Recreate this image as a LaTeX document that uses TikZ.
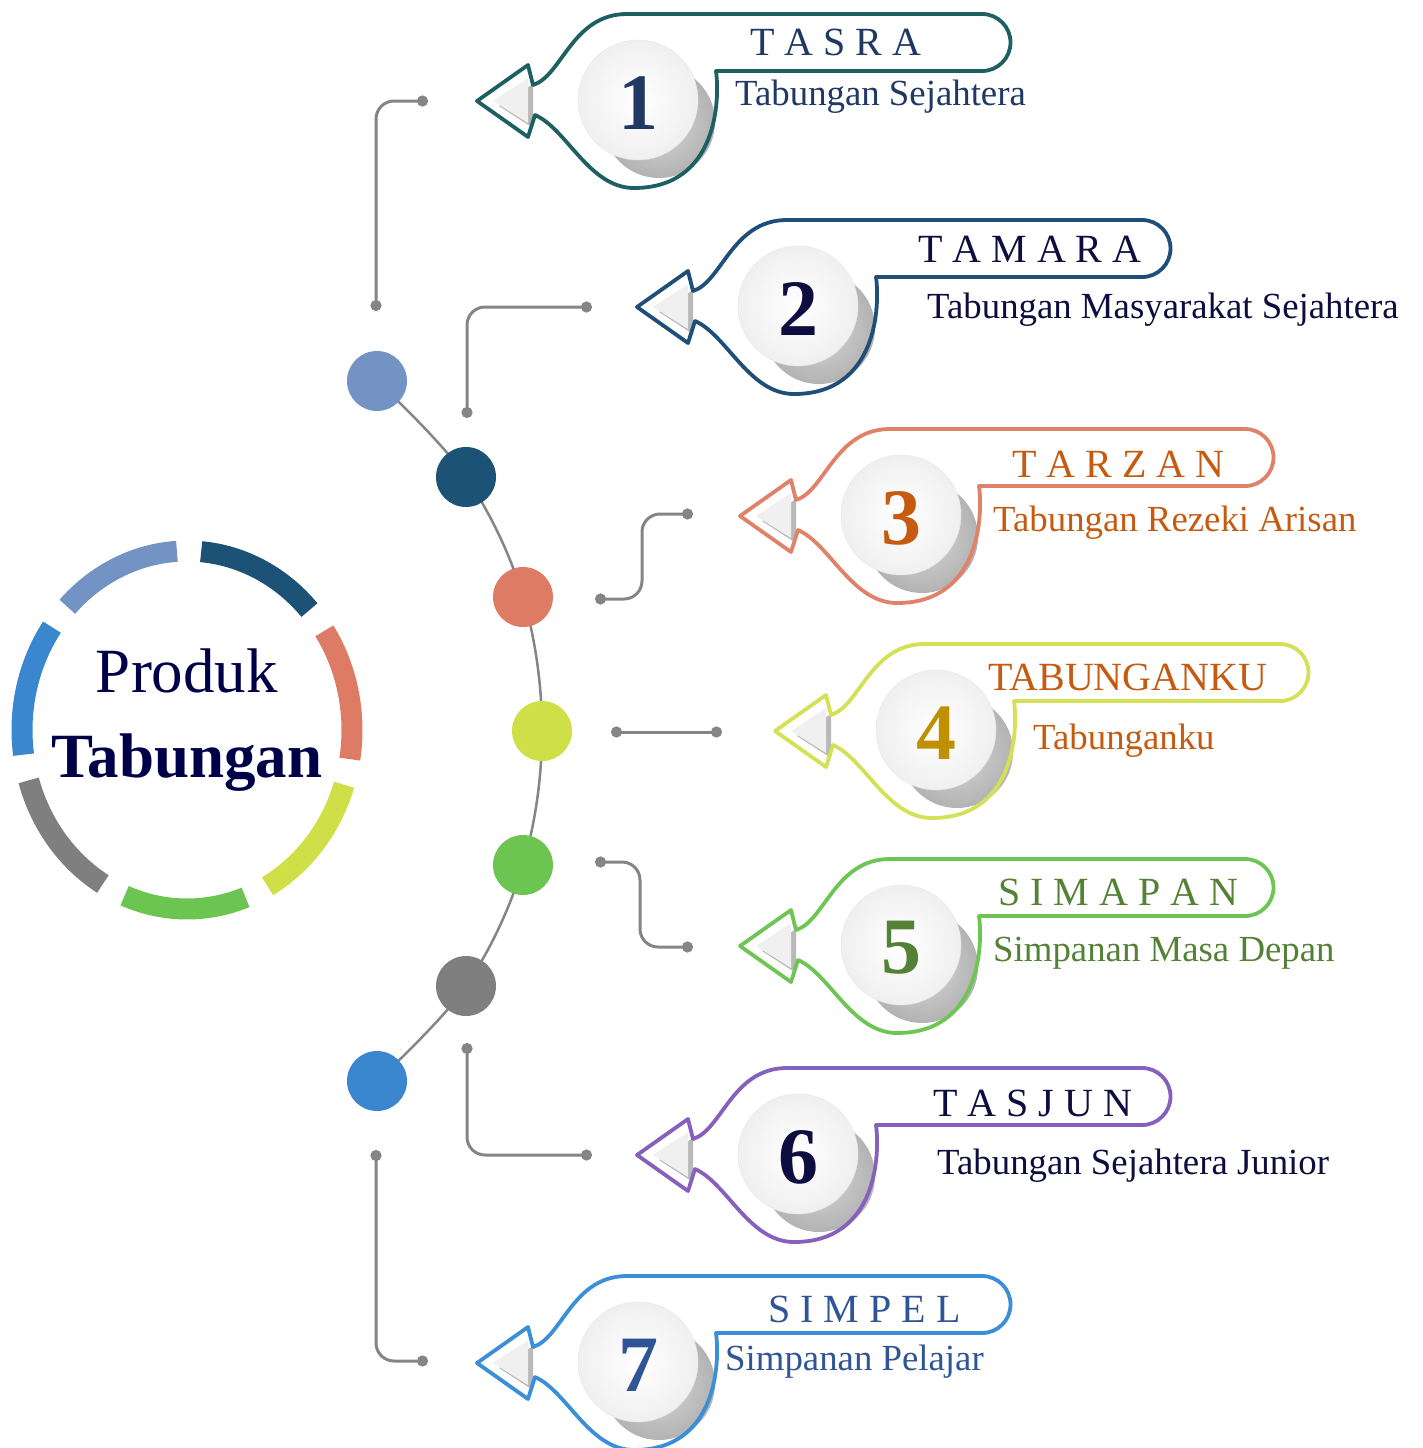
\documentclass[tikz,border=0pt]{standalone}
\usepackage{fontspec}
\setmainfont{Liberation Serif}
\usetikzlibrary{arrows.meta}

\definecolor{ltblue}{HTML}{7393C4}
\definecolor{dkblue}{HTML}{1B5276}
\definecolor{salmon}{HTML}{DE7B64}
\definecolor{lime}{HTML}{CFDF47}
\definecolor{leaf}{HTML}{6CC551}
\definecolor{midgray}{HTML}{7F7F7F}
\definecolor{skyblue}{HTML}{3A86CF}
\definecolor{linegray}{HTML}{858585}
\definecolor{navy}{HTML}{000048}
% outline colours of the callouts
\definecolor{ol1}{HTML}{1E5F62}
\definecolor{ol2}{HTML}{1F4E79}
\definecolor{ol3}{HTML}{E0826A}
\definecolor{ol4}{HTML}{D4E157}
\definecolor{ol5}{HTML}{6FC554}
\definecolor{ol6}{HTML}{8660BD}
\definecolor{ol7}{HTML}{3B8ED8}
% text colours
\definecolor{tx1}{HTML}{1F3864}
\definecolor{tx2}{HTML}{0D0D3F}
\definecolor{tx3}{HTML}{C55A11}
\definecolor{nm4}{HTML}{BF9000}
\definecolor{tx5}{HTML}{538135}
\definecolor{tx7}{HTML}{2F5597}

\tikzset{
  link/.style={draw=linegray, line width=3pt, rounded corners=18pt, {Circle[length=11pt]}-{Circle[length=11pt]}},
  spot/.style={circle, minimum size=60pt, inner sep=0pt},
  ttl/.style={anchor=base west, inner sep=0pt, font=\fontsize{40}{40}\selectfont},
  sub/.style={anchor=base west, inner sep=0pt, font=\fontsize{36.8}{36.8}\selectfont},
  num/.style={inner sep=0pt, font=\fontsize{80}{80}\selectfont\bfseries},
  pics/callout/.style n args={3}{code={
    \fill[gray!55] (22,5) -- (56,-17) -- (56,27) -- cycle;
    \fill[gray!12] (16,0) -- (51,-23) -- (51,22) -- cycle;
    \shade[inner color=gray!30, outer color=gray!60] (182,21) circle (56);
    \shadedraw[inner color=white, outer color=gray!12, draw=gray!20] (161,-1) circle (60);
    \draw[#1, line width=3.8pt, line join=round] (0,0) -- (51,-36) -- (56,-16)
      .. controls (85,-25) and (95,-87) .. (150,-87) -- (505,-87)
      arc[start angle=-90, end angle=90, radius=28.5] -- (239,-30)
      .. controls (243,0) and (240,87) .. (157,87)
      .. controls (112,87) and (90,28) .. (58,14) -- (51,36) -- cycle;
    \node[num, text=#3] (-num) at (161,2) {#2};
  }}
}

\begin{document}
\begin{tikzpicture}[x=1pt, y=-1pt]
\useasboundingbox (0,0) rectangle (1423,1448);

% ring
\coordinate (ring) at (187,730);
\foreach \c [count=\i from 0] in {ltblue,dkblue,salmon,lime,leaf,midgray,skyblue}{
  \pgfmathsetmacro\ra{-115+51.43*\i-21.5}
  \pgfmathsetmacro\rb{-115+51.43*\i+21.5}
  \draw[line width=21pt, \c] ([shift={(\ra:165 and 179)}]ring) arc[start angle=\ra, end angle=\rb, x radius=165, y radius=179];
}
\node[anchor=base, text=navy, font=\fontsize{63}{63}\selectfont] (prod) at (187,692) {Produk};
\node[anchor=base, text=navy, font=\fontsize{63}{63}\selectfont\bfseries] (tab) at (187,777) {Tabungan};

% spine
\foreach \x/\y [count=\i] in {377/381,466/477,523/597,542/731,523/865,466/986,377/1081}
  \coordinate (p\i) at (\x,\y);
\draw[linegray, line width=2.5pt] plot[smooth, tension=0.6] coordinates {(p1) (p2) (p3) (p4) (p5) (p6) (p7)};
\foreach \c [count=\i] in {ltblue,dkblue,salmon,lime,leaf,midgray,skyblue}
  \node[spot, fill=\c] (s\i) at (p\i) {};

% links
\foreach \x/\y [count=\i] in {376/311,467/418,595/599,611/732,595/862,467/1043,376/1150}
  \coordinate (a\i) at (\x,\y);
\foreach \x/\y [count=\i] in {428/101,592/307,693/514,722/732,693/947,592/1155,428/1361}
  \coordinate (b\i) at (\x,\y);
\draw[link] (a1) |- (b1);
\draw[link] (a2) |- (b2);
\draw[link] (a3) -- ++(47,0) |- (b3);
\draw[link] (a4) -- (b4);
\draw[link] (a5) -- ++(45,0) |- (b5);
\draw[link] (a6) |- (b6);
\draw[link] (a7) |- (b7);

% callouts
\pic (c1) at (477,101) {callout={ol1}{1}{tx1}};
\pic (c2) at (637,307) {callout={ol2}{2}{tx2}};
\pic (c3) at (740,516) {callout={ol3}{3}{tx3}};
\pic (c4) at (775,731) {callout={ol4}{4}{nm4}};
\pic (c5) at (740,946) {callout={ol5}{5}{tx5}};
\pic (c6) at (637,1155) {callout={ol6}{6}{tx2}};
\pic (c7) at (477,1363) {callout={ol7}{7}{tx7}};

\node[ttl, text=tx1] (t1) at (750,55) {T A S R A};
\node[sub, text=tx1] (u1) at (735,105) {Tabungan Sejahtera};
\node[ttl, text=tx2] (t2) at (918,262) {T A M A R A};
\node[sub, text=tx2] (u2) at (927,318) {Tabungan Masyarakat Sejahtera};
\node[ttl, text=tx3] (t3) at (1012,477) {T A R Z A N};
\node[sub, text=tx3] (u3) at (993,531) {Tabungan Rezeki Arisan};
\node[ttl, text=tx3] (t4) at (988,690) {TABUNGANKU};
\node[sub, text=tx3] (u4) at (1033,749) {Tabunganku};
\node[ttl, text=tx5] (t5) at (998,905) {S I M A P A N};
\node[sub, text=tx5] (u5) at (993,961) {Simpanan Masa Depan};
\node[ttl, text=tx2] (t6) at (933,1116) {T A S J U N};
\node[sub, text=tx2] (u6) at (937,1174) {Tabungan Sejahtera Junior};
\node[ttl, text=tx7] (t7) at (768,1322) {S I M P E L};
\node[sub, text=tx7] (u7) at (725,1370) {Simpanan Pelajar};
\end{tikzpicture}
\end{document}
